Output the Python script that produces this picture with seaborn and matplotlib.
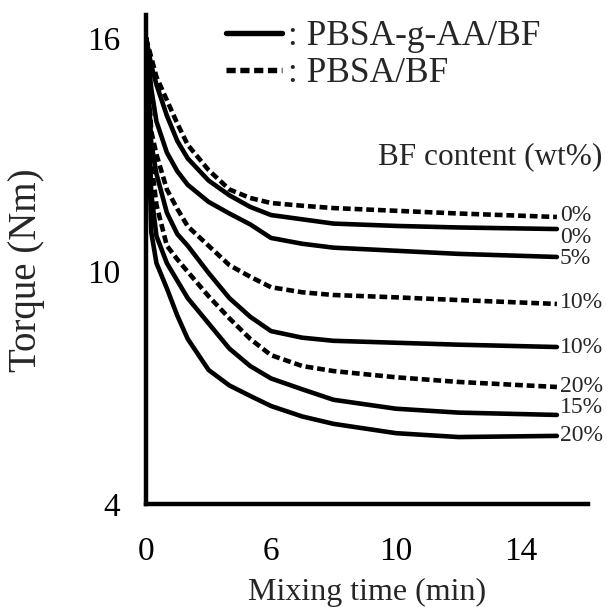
import numpy as np
import pandas as pd
import matplotlib
matplotlib.use("Agg")
import matplotlib.pyplot as plt
import seaborn as sns
from matplotlib.lines import Line2D

# ---------------- data ----------------
time_min = [0, 0.25, 0.5, 1, 1.5, 2, 3, 4, 5, 6, 7, 8, 10, 12, 15.15]

pbsa_bf_0 = [16.0, 15.5, 15.0, 14.4, 13.8, 13.25, 12.6, 12.1, 11.88, 11.75, 11.68, 11.62, 11.55, 11.48, 11.39]
pbsa_bf_10 = [16.0, 13.6, 13.0, 12.1, 11.6, 11.15, 10.65, 10.15, 9.85, 9.58, 9.45, 9.38, 9.32, 9.25, 9.15]
pbsa_bf_20 = [16.0, 12.8, 11.7, 10.65, 10.3, 9.98, 9.35, 8.78, 8.25, 7.83, 7.55, 7.42, 7.26, 7.14, 7.01]

gaa_bf_0 = [16.0, 15.3, 14.8, 14.0, 13.35, 12.9, 12.33, 11.95, 11.65, 11.44, 11.33, 11.22, 11.16, 11.12, 11.08]
gaa_bf_5 = [16.0, 14.7, 13.85, 13.05, 12.57, 12.22, 11.78, 11.48, 11.2, 10.85, 10.7, 10.6, 10.52, 10.44, 10.36]
gaa_bf_10 = [16.0, 13.3, 12.5, 11.5, 10.95, 10.65, 9.95, 9.3, 8.82, 8.45, 8.28, 8.2, 8.15, 8.1, 8.04]
gaa_bf_15 = [16.0, 12.0, 10.9, 10.2, 9.75, 9.3, 8.65, 8.0, 7.55, 7.23, 6.95, 6.68, 6.45, 6.35, 6.29]
gaa_bf_20 = [16.0, 11.0, 10.2, 9.55, 8.85, 8.25, 7.45, 7.05, 6.78, 6.52, 6.25, 6.06, 5.82, 5.72, 5.75]

series_values = [pbsa_bf_0, gaa_bf_0, gaa_bf_5, pbsa_bf_10, gaa_bf_10, pbsa_bf_20, gaa_bf_15, gaa_bf_20]
series_matrix = ["PBSA/BF", "PBSA-g-AA/BF", "PBSA-g-AA/BF", "PBSA/BF",
                 "PBSA-g-AA/BF", "PBSA/BF", "PBSA-g-AA/BF", "PBSA-g-AA/BF"]
series_labels = ["0%", "0%", "5%", "10%", "10%", "20%", "15%", "20%"]

matrix_names = ["PBSA-g-AA/BF", "PBSA/BF"]
x_ticks = [0, 3, 6, 8, 10, 12, 14, 16]
x_ticklabels = ["0", "", "6", "", "10", "", "14", ""]
y_ticks = [4, 6, 8, 10, 12, 14, 16]
y_ticklabels = ["4", "", "", "10", "", "", "16"]

# ---------------- style ----------------
sns.set_theme(style="white")
plt.rcParams["font.family"] = ["Liberation Serif", "DejaVu Serif"]

LW = 3.3
DASH = (0, (1.7, 0.85))
styles = {"PBSA-g-AA/BF": "-", "PBSA/BF": DASH}
label_offsets_pt = [(2, 1), (2, -6), (2, -1), (2, 1), (2, 0), (2, 0), (2, 5), (2, 0)]

fig = plt.figure(figsize=(6.06, 6.07), dpi=100)
ax = fig.add_axes([0.241, 0.170, 0.729, 0.805])


def fwd(t):
    t = np.asarray(t, dtype=float)
    return np.where(t <= 6, t * 2.0 / 3.0, t - 2.0)


def inv(p):
    p = np.asarray(p, dtype=float)
    return np.where(p <= 4, p * 1.5, p + 2.0)


ax.set_xscale("function", functions=(fwd, inv))

rows = []
for i, (vals, mat) in enumerate(zip(series_values, series_matrix)):
    for t, v in zip(time_min, vals):
        rows.append({"time": t, "torque": v, "series": i, "matrix": mat})
df = pd.DataFrame(rows)

for i, mat in enumerate(series_matrix):
    sub = df[df["series"] == i]
    sns.lineplot(data=sub, x="time", y="torque", ax=ax, color="black",
                 linewidth=LW, linestyle=styles[mat], estimator=None,
                 sort=True, legend=False,
                 solid_joinstyle="round", dash_capstyle="butt")

for vals, lab, off in zip(series_values, series_labels, label_offsets_pt):
    ax.annotate(lab, xy=(time_min[-1], vals[-1]), xytext=off,
                textcoords="offset points", ha="left", va="center",
                fontsize=17, annotation_clip=False)

ax.set_xlim(0, 16.14)
ax.set_ylim(4, 16.59)
ax.set_xticks(x_ticks)
ax.set_xticklabels(x_ticklabels)
ax.set_yticks(y_ticks)
ax.set_yticklabels(y_ticklabels)
ax.xaxis.set_minor_locator(matplotlib.ticker.NullLocator())

for side in ["top", "right"]:
    ax.spines[side].set_visible(False)
for side in ["left", "bottom"]:
    ax.spines[side].set_linewidth(3.2)
    ax.spines[side].set_color("black")

ax.tick_params(axis="both", which="major", direction="out", length=11.5,
               width=3.0, color="black", labelsize=24, labelcolor="black")
ax.tick_params(axis="y", pad=7)
ax.tick_params(axis="x", pad=12)

ax.set_xlabel("Mixing time (min)", fontsize=23, labelpad=8)
ax.set_ylabel("Torque (Nm)", fontsize=28)
ax.yaxis.set_label_coords(-0.2285, 0.4785)

handles = [Line2D([], [], color="black", linewidth=LW + 0.6, linestyle=styles[m]) for m in matrix_names]
leg = ax.legend(handles, [": " + m for m in matrix_names], loc="upper left",
                bbox_to_anchor=(0.18, 0.99), frameon=False, fontsize=25.5,
                handlelength=1.6, handletextpad=0.15, labelspacing=0.12,
                borderpad=0, borderaxespad=0)

ax.text(1.034, 0.71, "BF content (wt%)", transform=ax.transAxes, ha="right",
        va="center", fontsize=22.5)

ax.set_facecolor("white")
fig.patch.set_facecolor("white")
fig.savefig("out.png", dpi=100)
